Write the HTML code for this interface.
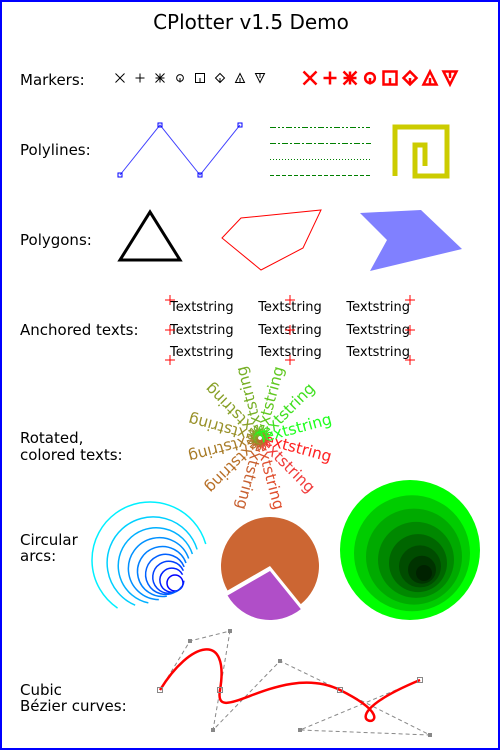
<!DOCTYPE html>
<html><head><meta charset="utf-8"><style>
html,body{margin:0;padding:0;background:#fff}
svg{display:block}
text{font-family:"DejaVu Sans","Liberation Sans",sans-serif}
</style></head><body>
<svg id="c" width="500" height="750" xmlns="http://www.w3.org/2000/svg">
<rect x="1" y="1" width="498" height="748" fill="#fff" stroke="#0000ff" stroke-width="2"/>
<text x="251" y="29" font-size="20" text-anchor="middle">CPlotter v1.5 Demo</text>
<g font-size="15" fill="#000">
<text x="20" y="85">Markers:</text>
<text x="20" y="155">Polylines:</text>
<text x="20" y="245">Polygons:</text>
<text x="20" y="335">Anchored texts:</text>
<text x="20" y="443">Rotated,</text>
<text x="20" y="460">colored texts:</text>
<text x="20" y="545">Circular</text>
<text x="20" y="561">arcs:</text>
<text x="20" y="695">Cubic</text>
<text x="20" y="711">Bézier curves:</text>
</g>
<polyline points="120,175 160,125 200,175 240,125" fill="none" stroke="#4040ff" stroke-width="1"/>
<g fill="none" stroke="#0000ff" stroke-width="1">
<rect x="118" y="173" width="4" height="4"/><rect x="158" y="123" width="4" height="4"/><rect x="198" y="173" width="4" height="4"/><rect x="238" y="123" width="4" height="4"/>
</g>
<g stroke="#008000" stroke-width="1" fill="none">
<line x1="270" y1="127.5" x2="370" y2="127.5" stroke-dasharray="6,2,2,2,2,2"/>
<line x1="270" y1="143.5" x2="371" y2="143.5" stroke-dasharray="6,2,2,2"/>
<line x1="270" y1="159.5" x2="370" y2="159.5" stroke-dasharray="1,2"/>
<line x1="270" y1="175.5" x2="370" y2="175.5" stroke-dasharray="4,2"/>
</g>
<polyline points="395,176 395,127 447,127 447,176 415,176 415,145 425,145 425,166" fill="none" stroke="#cccc00" stroke-width="5" stroke-linejoin="miter"/>
<polygon points="120,260 150,212 180,260" fill="none" stroke="#000" stroke-width="3"/>
<polygon points="222,238 241,218 321,210 303,248 261,270" fill="none" stroke="#ff0000" stroke-width="1"/>
<polygon points="360,213 421,210 462,249 370,271 387,240" fill="#8080ff"/>
<g id="anch" font-size="13" fill="#000"></g>
<g id="rot" font-size="15.5"></g>
<g id="arcs"></g>
<g id="pie"></g>
<g id="green"></g>
<g id="bez"></g>
<g id="marks"></g>
</svg>
<script>
const NS="http://www.w3.org/2000/svg";
function mk(tag,attrs,parent){const e=document.createElementNS(NS,tag);for(const k in attrs)e.setAttribute(k,attrs[k]);parent.appendChild(e);return e;}
const markerTypes=["x","plus","star","circ","sq","dia","tri","itri"];
const smallX=[120,140,160,180,200,220,240,260];
const bigX=[310,330,350,370,390,410,430,450];
const mg=document.getElementById('marks');
function marker(t,x,y,s,col,w){
  const g=mk('g',{fill:'none',stroke:col,'stroke-width':w},mg);
  
  
  const h=s/2;
  if(t=="x"||t=="star"){mk('line',{x1:x-h,y1:y-h,x2:x+h,y2:y+h},g);mk('line',{x1:x-h,y1:y+h,x2:x+h,y2:y-h},g);}
  if(t=="plus"||t=="star"){mk('line',{x1:x-h,y1:y,x2:x+h,y2:y},g);mk('line',{x1:x,y1:y-h,x2:x,y2:y+h},g);}
  if(t=="circ"){mk('circle',{cx:x,cy:y,r:h*0.75},g);mk('line',{x1:x,y1:y,x2:x,y2:y+h},g);}
  if(t=="sq"){mk('rect',{x:x-h,y:y-h,width:s,height:s},g);mk('line',{x1:x,y1:y,x2:x,y2:y+h},g);}
  if(t=="dia"){mk('polygon',{points:`${x},${y-h} ${x+h},${y} ${x},${y+h} ${x-h},${y}`},g);mk('line',{x1:x,y1:y,x2:x,y2:y+h},g);}
  if(t=="tri"){mk('polygon',{points:`${x},${y-h} ${x+h},${y+h} ${x-h},${y+h}`},g);mk('line',{x1:x,y1:y,x2:x,y2:y+h},g);}
  if(t=="itri"){mk('polygon',{points:`${x-h},${y-h} ${x+h},${y-h} ${x},${y+h}`},g);mk('line',{x1:x,y1:y-h,x2:x,y2:y},g);}
}
markerTypes.forEach((t,i)=>{marker(t,smallX[i],78,9,'#000',1);marker(t,bigX[i],78,13,'#ff0000',2.5);});
const anchorX=[170,290,410];
const anchorY=[300,330,360];
const ag=document.getElementById('anch');
const ha=['start','middle','end'];
anchorY.forEach((y,r)=>anchorX.forEach((x,c)=>{
  const ty=r==0?y+11:(r==1?y+4:y-4);
  const t=mk('text',{x:x,y:ty,'text-anchor':ha[c]},ag);t.textContent='Textstring';
  
  
  const g=mk('g',{stroke:'#ff0000','stroke-width':1},ag);
  
  
  mk('line',{x1:x-5,y1:y,x2:x+5,y2:y},g);mk('line',{x1:x,y1:y-5,x2:x,y2:y+5},g);
}));
const rotAngles=[15,45,75,105,135,165,195,225,255,285,315,345];
const rotColors=["#ff2020","#f03c3c","#e05030","#c86030","#b87028","#a87c28","#989028","#88a028","#78b028","#60c820","#40e020","#20ff20"];
const rg=document.getElementById('rot');
rotAngles.forEach((a,i)=>{
  const t=mk('text',{x:258,y:438,fill:rotColors[i],transform:`rotate(${a} 260 438) translate(0 5)`},rg);
  t.textContent='Textstring';
  
  
});
const arcRadii=[8,12,16,20,25,31,38,46,58];
const arcSpans=[360,330,300,280,260,250,240,230,220];
const arcColors=["#0000ff","#0020ff","#0040ff","#0060ff","#0080ff","#0090ff","#00b0ff","#00d0ff","#00f0ff"];
const arg=document.getElementById('arcs');
arcRadii.forEach((r,i)=>{
  const f=i/(arcRadii.length-1);
  const cx=175-25*f, cy=583-23*f;
  let e;
  if(arcSpans[i]>=360){e=mk('circle',{cx:cx,cy:cy,r:r,fill:'none',stroke:arcColors[i],'stroke-width':1.5},arg);}
  else{
    const a0=(-30+ (360-arcSpans[i])*0.1)*Math.PI/180, a1=a0-arcSpans[i]*Math.PI/180;
    const x0=cx+r*Math.cos(a0),y0=cy+r*Math.sin(a0),x1=cx+r*Math.cos(a1),y1=cy+r*Math.sin(a1);
    e=mk('path',{d:`M${x0},${y0} A${r},${r} 0 ${arcSpans[i]>180?1:0} 0 ${x1},${y1}`,fill:'none',stroke:arcColors[i],'stroke-width':1.5},arg);
  }
  
  
});
const pieSlices=[{a0:-210,a1:51,col:'#cc6633',cx:270,cy:566},{a0:51,a1:150,col:'#b04ec8',cx:270,cy:571}];
const pg=document.getElementById('pie');
const pr=49;
pieSlices.forEach(s=>{
  const a0=s.a0*Math.PI/180,a1=s.a1*Math.PI/180;
  const d=`M${s.cx},${s.cy} L${s.cx+pr*Math.cos(a0)},${s.cy+pr*Math.sin(a0)} A${pr},${pr} 0 ${s.a1-s.a0>180?1:0} 1 ${s.cx+pr*Math.cos(a1)},${s.cy+pr*Math.sin(a1)} Z`;
  const p=mk('path',{d:d,fill:s.col},pg);
  
  
});
const greenR=[70,58,48,38,29,21,14,8];
const greenCol=["#00ff00","#00cc00","#00aa00","#008800","#006600","#004c00","#003300","#002200"];
const gg=document.getElementById('green');
greenR.forEach((r,i)=>{
  const f=i/(greenR.length-1);
  const c=mk('circle',{cx:410+14*f,cy:550+23*f,r:r,fill:greenCol[i]},gg);
  
  
});
const bezPts=[[160,690],[190,641],[230,631],[220,690],[213,730],[280,661],[340,690],[430,735],[300,730],[420,680]];
const bg=document.getElementById('bez');
const cp=mk('polyline',{points:bezPts.map(p=>p.join(',')).join(' '),fill:'none',stroke:'#888','stroke-width':1,'stroke-dasharray':'4,3'},bg);


let d=`M${bezPts[0]}`;
for(let i=1;i<bezPts.length;i+=3)d+=` C${bezPts[i]} ${bezPts[i+1]} ${bezPts[i+2]}`;
const bc=mk('path',{d:d,fill:'none',stroke:'#ff0000','stroke-width':2.5},bg);


bezPts.forEach((p,i)=>{
  let e;
  if(i%3==0)e=mk('rect',{x:p[0]-2.5,y:p[1]-2.5,width:5,height:5,fill:'none',stroke:'#888'},bg);
  else e=mk('rect',{x:p[0]-2,y:p[1]-2,width:4,height:4,fill:'#888'},bg);
  
  
});
</script>
</body></html>
